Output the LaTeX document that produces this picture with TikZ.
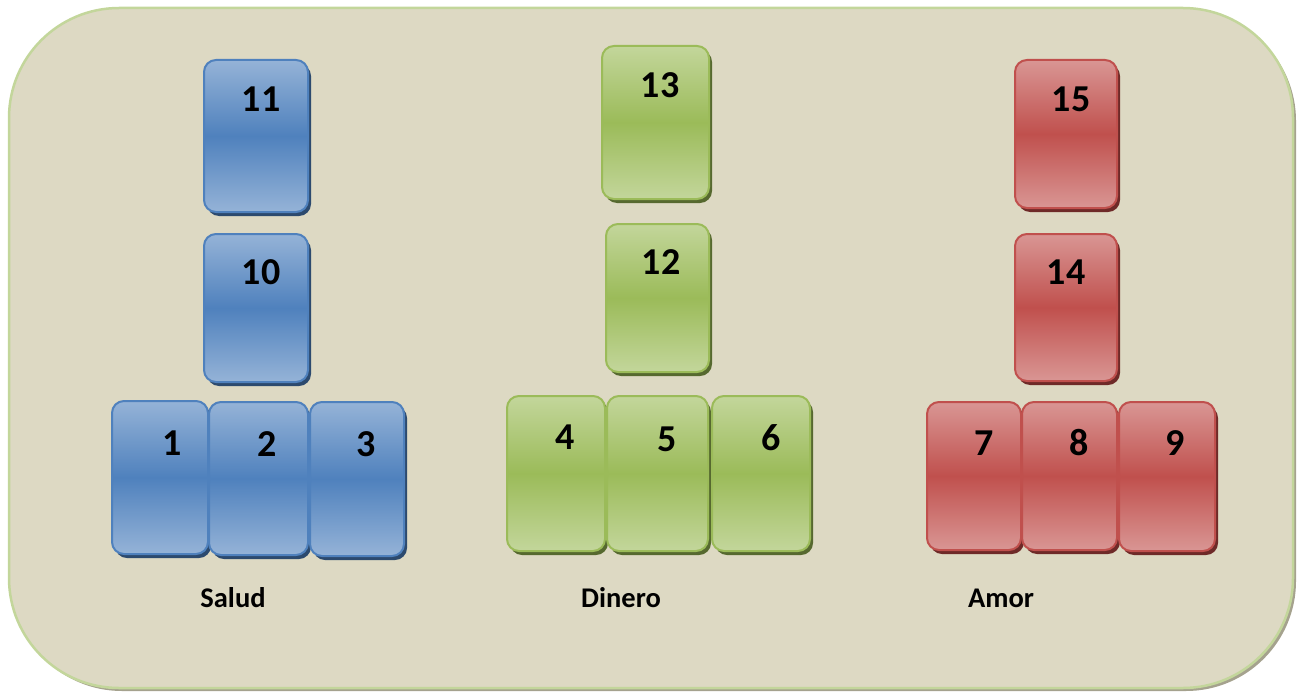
\documentclass[tikz,border=0pt]{standalone}
\usepackage{fontspec}
\setmainfont{Carlito}
\usetikzlibrary{shadows}
\definecolor{bgfill}{HTML}{DDD9C3}
\definecolor{bgline}{HTML}{C3D69B}
\definecolor{bgshadow}{HTML}{A5A28E}
\definecolor{blueL}{HTML}{95B3D7}
\definecolor{blueD}{HTML}{4F81BD}
\definecolor{blueS}{HTML}{2C4A6E}
\definecolor{greenL}{HTML}{C3D69B}
\definecolor{greenD}{HTML}{9BBB59}
\definecolor{greenS}{HTML}{56692F}
\definecolor{redL}{HTML}{D99694}
\definecolor{redD}{HTML}{C0504D}
\definecolor{redS}{HTML}{6E2A28}
\tikzset{
  x=1pt, y=-1pt,
  cardbase/.style={rectangle, rounded corners=12pt, line width=2pt, inner sep=0pt},
  bluecard/.style={cardbase, draw=blueD, top color=blueL, bottom color=blueL, middle color=blueD,
    drop shadow={shadow xshift=3pt, shadow yshift=-4pt, fill=blueS, opacity=1}},
  greencard/.style={cardbase, draw=greenD, top color=greenL, bottom color=greenL, middle color=greenD,
    drop shadow={shadow xshift=3pt, shadow yshift=-4pt, fill=greenS, opacity=1}},
  redcard/.style={cardbase, draw=redD, top color=redL, bottom color=redL, middle color=redD,
    drop shadow={shadow xshift=3pt, shadow yshift=-4pt, fill=redS, opacity=1}},
  num/.style={font=\fontsize{38}{38}\selectfont\bfseries, inner sep=0pt},
  caption/.style={font=\fontsize{28.5}{28.5}\selectfont\bfseries, inner sep=0pt},
}
% #1 name, #2 style, #3 x1, #4 y1, #5 x2, #6 y2
\newcommand\mycard[6]{%
  \pgfmathsetmacro\cw{#5-#3}\pgfmathsetmacro\ch{#6-#4}%
  \node[#2, minimum width=\cw pt, minimum height=\ch pt] (#1) at ({(#3+#5)/2},{(#4+#6)/2}) {};}
\begin{document}
\begin{tikzpicture}
\useasboundingbox (0,0) rectangle (1297,693);
% background panel
\fill[bgshadow, rounded corners=110pt] (12,11) rectangle (1296,691);
\draw[fill=bgfill, draw=bgline, line width=2.5pt, rounded corners=110pt] (9,8) rectangle (1293,688);

% blue column
\mycard{c11}{bluecard}{204}{60}{308}{212}
\mycard{c10}{bluecard}{204}{234}{308}{382}
\mycard{c1}{bluecard}{112}{401}{208}{554}
\mycard{c2}{bluecard}{209}{402}{308}{555}
\mycard{c3}{bluecard}{310}{402}{404}{556}
% green column
\mycard{c13}{greencard}{602}{46}{709}{199}
\mycard{c12}{greencard}{606}{224}{709}{372}
\mycard{c4}{greencard}{507}{396}{605}{551}
\mycard{c5}{greencard}{607}{396}{708}{551}
\mycard{c6}{greencard}{712}{396}{810}{551}
% red column
\mycard{c15}{redcard}{1015}{60}{1117}{208}
\mycard{c14}{redcard}{1015}{234}{1117}{381}
\mycard{c7}{redcard}{927}{402}{1021}{550}
\mycard{c8}{redcard}{1022}{402}{1117}{550}
\mycard{c9}{redcard}{1119}{402}{1215}{551}

% numbers
\node[num] (n11) at (261,99) {11};
\node[num] (n10) at (261,272) {10};
\node[num] (n1) at (172,443) {1};
\node[num] (n2) at (267,444) {2};
\node[num] (n3) at (366,444) {3};
\node[num] (n13) at (660,85) {13};
\node[num] (n12) at (661,262) {12};
\node[num] (n4) at (565,437) {4};
\node[num] (n5) at (667,439) {5};
\node[num] (n6) at (771,438) {6};
\node[num] (n15) at (1071,99) {15};
\node[num] (n14) at (1066,272) {14};
\node[num] (n7) at (984,443) {7};
\node[num] (n8) at (1079,443) {8};
\node[num] (n9) at (1175,443) {9};

% captions
\node[caption] (salud) at (233,598) {Salud};
\node[caption] (dinero) at (621,598) {Dinero};
\node[caption] (amor) at (1001,598) {Amor};
\end{tikzpicture}
\end{document}
